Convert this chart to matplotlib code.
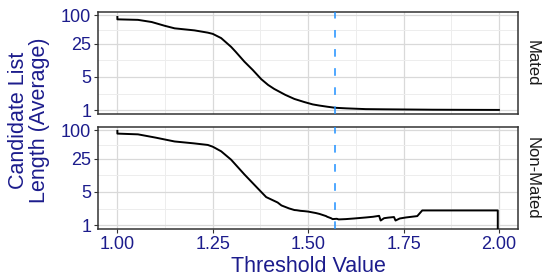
import matplotlib
matplotlib.use("Agg")
import matplotlib.pyplot as plt
from matplotlib.ticker import FixedLocator, NullFormatter

plt.rcParams['font.family'] = ['Liberation Sans', 'DejaVu Sans']

# ---- data ----
mated_x = [1.0, 1.0, 1.054, 1.09, 1.124, 1.15, 1.202, 1.237, 1.25, 1.272, 1.298, 1.31,
           1.333, 1.355, 1.377, 1.395, 1.411, 1.44, 1.464, 1.49, 1.512, 1.529, 1.55,
           1.571, 1.6, 1.651, 1.7, 1.826, 1.9, 2.0]
mated_y = [92, 82, 80, 72, 60, 53, 48, 43, 40.5, 33, 21.6, 17, 10.5, 7.0, 4.5, 3.4, 2.8,
           2.1, 1.72, 1.48, 1.32, 1.25, 1.18, 1.12, 1.09, 1.05, 1.04, 1.02, 1.015, 1.01]

nonmated_x = [1.0, 1.0, 1.054, 1.10, 1.15, 1.20, 1.237, 1.25, 1.272, 1.298, 1.333, 1.377,
              1.39, 1.42, 1.43, 1.45, 1.464, 1.47, 1.48, 1.49, 1.50, 1.512, 1.52, 1.53,
              1.547, 1.55, 1.56, 1.564, 1.575, 1.58, 1.599, 1.62, 1.651, 1.67, 1.686,
              1.69, 1.699, 1.71, 1.725, 1.729, 1.74, 1.756, 1.786, 1.799, 1.997, 1.997]
nonmated_y = [97, 85, 82, 70, 58, 53, 49, 45, 36, 24, 11.7, 5.0,
              3.9, 3.0, 2.6, 2.25, 2.08, 2.06, 2.0, 1.97, 1.93, 1.85, 1.8, 1.72,
              1.55, 1.5, 1.4, 1.34, 1.36, 1.32, 1.34, 1.38, 1.45, 1.5, 1.57,
              1.25, 1.40, 1.44, 1.48, 1.25, 1.38, 1.45, 1.55, 2.04, 2.04, 0.5]

threshold = 1.57
panels = ["Mated", "Non-Mated"]
series_x = [mated_x, nonmated_x]
series_y = [mated_y, nonmated_y]

x_ticks = [1.00, 1.25, 1.50, 1.75, 2.00]
x_ticklabels = ["1.00", "1.25", "1.50", "1.75", "2.00"]
y_ticks = [1, 5, 25, 100]
y_ticklabels = ["1", "5", "25", "100"]

# ---- style ----
navy = '#1c1c8c'
W, H = 544, 278
fig = plt.figure(figsize=(W / 100, H / 100), dpi=100)

left, right = 98.3 / W, 518 / W
boxes = [(11.7, 114.3), (126.7, 229.3)]

ylo, yhi = 10 ** -0.088, 10 ** 2.075
x_minor = [1.125, 1.375, 1.625, 1.875]
y_minor = [5 ** 0.5, (5 * 25) ** 0.5, 50]

for i, (name, xs, ys) in enumerate(zip(panels, series_x, series_y)):
    top_px, bot_px = boxes[i]
    ax = fig.add_axes([left, 1 - bot_px / H, right - left, (bot_px - top_px) / H])
    ax.set_yscale('log')
    ax.set_xlim(0.95, 2.05)
    ax.set_ylim(ylo, yhi)
    ax.yaxis.set_major_locator(FixedLocator(y_ticks))
    ax.set_yticklabels(y_ticklabels)
    ax.yaxis.set_minor_locator(FixedLocator(y_minor))
    ax.yaxis.set_minor_formatter(NullFormatter())
    ax.xaxis.set_major_locator(FixedLocator(x_ticks))
    ax.xaxis.set_minor_locator(FixedLocator(x_minor))
    ax.xaxis.set_minor_formatter(NullFormatter())
    ax.grid(which='major', color='#d9d9d9', lw=0.9, zorder=0)
    ax.grid(which='minor', color='#ededed', lw=0.7, zorder=0)
    ax.set_axisbelow(True)
    ax.tick_params(which='minor', length=0)
    ax.tick_params(which='major', length=3, width=0.8, color='#333333',
                   labelcolor=navy, labelsize=13, pad=2)
    if i == 0:
        ax.tick_params(axis='x', which='major', bottom=False, labelbottom=False)
    else:
        ax.set_xticklabels(x_ticklabels)
    for s in ax.spines.values():
        s.set_color('#333333')
        s.set_linewidth(1.1)
    ax.plot(xs, ys, color='black', lw=1.4, solid_joinstyle='round', zorder=3)
    ax.axvline(threshold, color='#1e90ff', lw=1.1, dashes=(5, 7.5), zorder=4)
    fig.text(532 / W, 1 - ((top_px + bot_px) / 2) / H, name, rotation=270,
             ha='center', va='center', fontsize=12, color='#1a1a1a')

fig.text(29 / W, 1 - 120.5 / H, "Candidate List\nLength (Average)", rotation=90,
         ha='center', va='center', fontsize=15.5, color=navy, linespacing=0.95)
fig.text(308 / W, 1 - 266 / H, "Threshold Value", ha='center', va='center',
         fontsize=15.5, color=navy)

fig.savefig('out.png', dpi=100)
